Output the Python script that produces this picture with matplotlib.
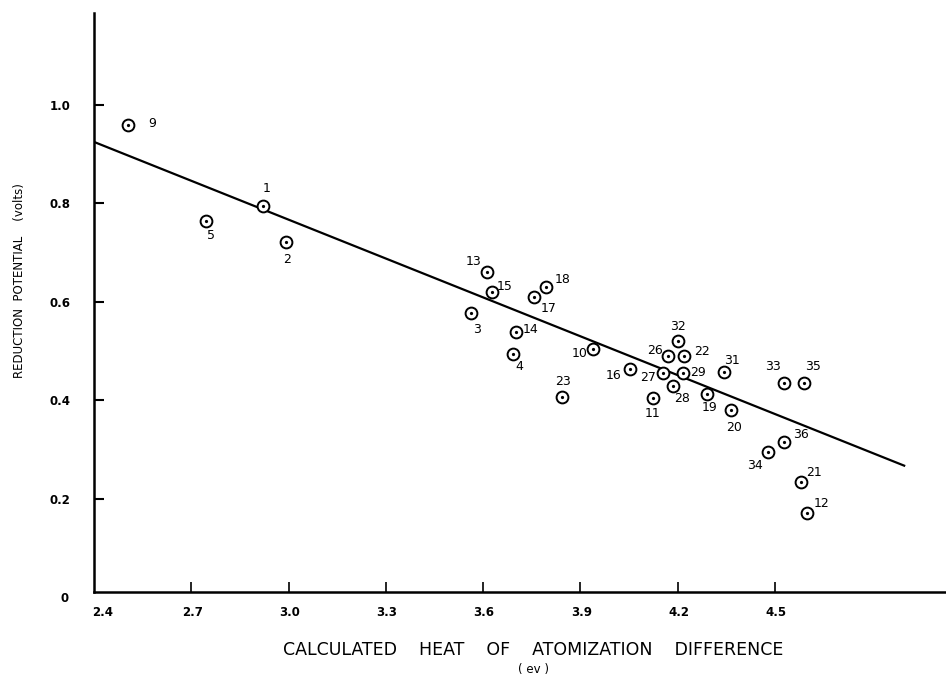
import matplotlib
matplotlib.use("Agg")
import matplotlib.pyplot as plt

# ---- data ----
point_ids = ["9", "1", "5", "2", "13", "15", "3", "17", "18", "14", "4", "23", "10",
             "16", "27", "11", "26", "32", "22", "29", "28", "19", "31", "20",
             "33", "35", "36", "34", "21", "12"]
heat_diff = [2.504, 2.922, 2.744, 2.992, 3.611, 3.626, 3.562, 3.758, 3.794, 3.701,
             3.691, 3.842, 3.938, 4.053, 4.154, 4.123, 4.169, 4.200, 4.220, 4.217,
             4.186, 4.291, 4.341, 4.364, 4.528, 4.589, 4.526, 4.477, 4.579, 4.598]
red_pot = [0.960, 0.795, 0.765, 0.722, 0.660, 0.619, 0.577, 0.609, 0.631, 0.539,
           0.493, 0.407, 0.504, 0.463, 0.456, 0.404, 0.490, 0.521, 0.490, 0.456,
           0.429, 0.413, 0.458, 0.380, 0.436, 0.436, 0.316, 0.295, 0.234, 0.170]
fit_x = [2.4, 4.898]
fit_y = [0.925, 0.267]
x_ticks = [2.4, 2.7, 3.0, 3.3, 3.6, 3.9, 4.2, 4.5]
x_tick_labels = ["2.4", "2.7", "3.0", "3.3", "3.6", "3.9", "4.2", "4.5"]
y_ticks = [0.2, 0.4, 0.6, 0.8, 1.0]
y_tick_labels = ["0.2", "0.4", "0.6", "0.8", "1.0"]

# label offsets (pixels), layout only
label_offsets = {
    "9": (24, 1), "1": (3, 17), "5": (5, -15), "2": (1, -18), "13": (-13, 11),
    "15": (13, 6), "3": (6, -16), "17": (14, -11), "18": (17, 7), "14": (15, 2),
    "4": (7, -12), "23": (1, 15), "10": (-13, -4), "16": (-17, -6), "27": (-15, -5),
    "11": (0, -15), "26": (-13, 5), "32": (0, 14), "22": (18, 4), "29": (15, 0),
    "28": (9, -13), "19": (2, -14), "31": (8, 11), "20": (3, -17), "33": (-11, 16),
    "35": (9, 16), "36": (17, 7), "34": (-13, -14), "21": (13, 9), "12": (15, 10),
}

fig = plt.figure(figsize=(9.46, 6.78), dpi=100)
W, H = 946, 678
ax = fig.add_axes([94 / W, (H - 592) / H, (W - 94) / W, (592 - 13) / H])
ax.set_xlim(2.4, 5.027)
ax.set_ylim(0.0102, 1.187)

for s in ["top", "right"]:
    ax.spines[s].set_visible(False)
for s in ["left", "bottom"]:
    ax.spines[s].set_linewidth(1.8)
    ax.spines[s].set_color("black")

ax.plot(fit_x, fit_y, color="black", lw=1.6, zorder=2)
ax.plot(heat_diff, red_pot, linestyle="none", marker="o", markersize=8.5,
        markerfacecolor="white", markeredgecolor="black", markeredgewidth=1.4, zorder=3)
ax.plot(heat_diff, red_pot, linestyle="none", marker="o", markersize=1.3,
        markerfacecolor="black", markeredgecolor="black", zorder=4)

for pid, xv, yv in zip(point_ids, heat_diff, red_pot):
    dx, dy = label_offsets[pid]
    ax.annotate(pid, (xv, yv), xytext=(dx, dy), textcoords="offset pixels",
                ha="center", va="center", fontsize=9, fontfamily="DejaVu Sans",
                color="black")

ax.set_xticks(x_ticks[1:])
ax.set_xticklabels([])
ax.set_yticks(y_ticks)
ax.set_yticklabels(y_tick_labels, fontsize=8.5, fontweight="bold")
ax.tick_params(axis="y", direction="in", length=7, width=1.5, pad=17)
ax.tick_params(axis="x", direction="in", length=7, width=1.2)

# x tick labels as text so 2.4 can sit right of the corner
for xv, lab in zip(x_ticks, x_tick_labels):
    xp = xv + (0.027 if xv == 2.4 else 0.003)
    ax.text(xp, -0.035, lab, ha="center", va="center", fontsize=8.5,
            fontweight="bold", transform=ax.get_xaxis_transform())
ax.text(-29 / (W - 94), -0.012, "0", ha="center", va="center", fontsize=8.5,
        fontweight="bold", transform=ax.transAxes)

fig.text(533 / W, 1 - 650 / H, "CALCULATED    HEAT    OF    ATOMIZATION    DIFFERENCE",
         ha="center", va="center", fontsize=12.5)
fig.text(534 / W, 1 - 669 / H, "( ev )", ha="center", va="center", fontsize=8.5)
fig.text(20 / W, 1 - 281 / H, "REDUCTION  POTENTIAL    (volts)", ha="center",
         va="center", rotation=90, fontsize=8.5)

fig.savefig("out.png", dpi=100, facecolor="white")
